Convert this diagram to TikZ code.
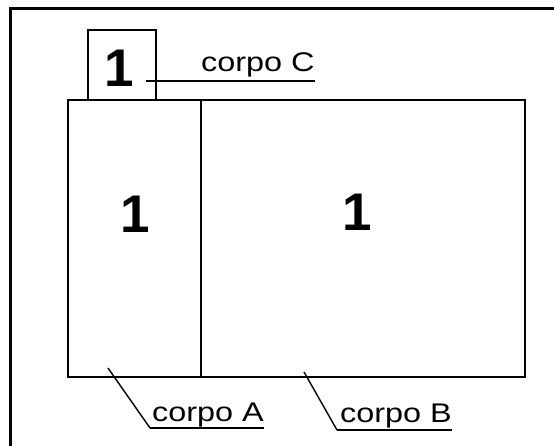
\documentclass[tikz,border=0pt]{standalone}
\usepackage{fontspec}
\usepackage{graphicx}
\setmainfont{Liberation Sans}
\newcommand{\widetxt}[1]{\scalebox{1.2}[1]{#1}}
\begin{document}
\begin{tikzpicture}[x=1pt,y=-1pt,
  box/.style={draw=black,line width=2.4pt},
  lbl/.style={inner sep=0pt,anchor=base west,font=\fontsize{27}{27}\selectfont},
  num/.style={inner sep=0pt,font=\fontsize{53}{53}\selectfont\bfseries},
  lead/.style={draw=black,line width=1.4pt},
  uline/.style={draw=black,line width=2pt}]
\useasboundingbox (0,0) rectangle (554,446);
\fill[white] (0,0) rectangle (554,446);
% outer frame (cropped: only left and top visible)
\draw[line width=3pt] (10,446) -- (10,8.5) -- (554,8.5);
% bodies
\coordinate (Ctl) at (88,30);
\coordinate (Cbr) at (156,100);
\coordinate (Mtl) at (68,100);
\coordinate (Mbr) at (525,377);
\coordinate (Dt) at (201,100);
\coordinate (Db) at (201,377);
\draw[box] (Ctl) rectangle (Cbr);
\draw[box] (Mtl) rectangle (Mbr);
\draw[box] (Dt) -- (Db);
\node[num] (nC) at (119,68) {1};
\node[num] (nA) at (135,214) {1};
\node[num] (nB) at (357,212) {1};
% labels
\node[lbl] (labC) at (201,72) {\widetxt{corpo C}};
\node[lbl] (labA) at (152,421) {\widetxt{corpo A}};
\node[lbl] (labB) at (340,422) {\widetxt{corpo B}};
% leader lines
\coordinate (cs) at (146,81);
\draw[uline] (cs) -- (cs -| labC.east);
\coordinate (as) at (108,368);
\coordinate (ae) at (150,428);
\draw[lead] (as) -- (ae);
\draw[uline] (ae) -- (ae -| labA.east);
\coordinate (bs) at (304,372);
\coordinate (be) at (337,430);
\draw[lead] (bs) -- (be);
\draw[uline] (be) -- (be -| labB.east);
\end{tikzpicture}
\end{document}
